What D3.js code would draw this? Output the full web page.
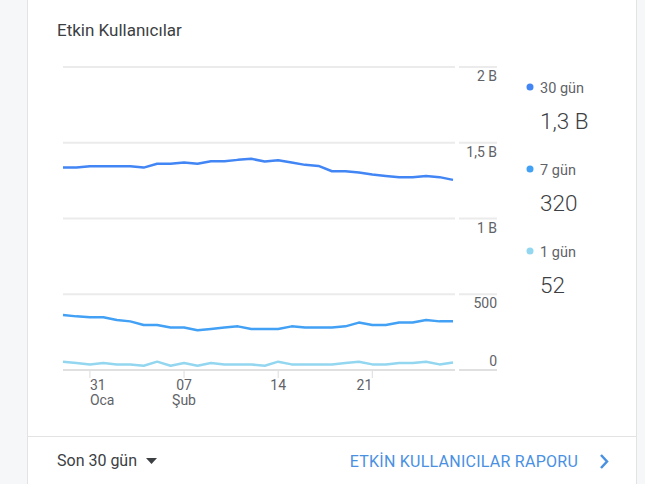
<!DOCTYPE html>
<html>
<head>
<meta charset="utf-8">
<script src="https://cdn.jsdelivr.net/npm/d3@7"></script>
<style>
  html, body { margin: 0; padding: 0; background: #f6f7f8; }
  svg { display: block; font-family: Roboto, "Noto Sans", sans-serif; }
</style>
</head>
<body>
<svg id="chart"></svg>
<script>
const dates = ["2019-01-29","2019-01-30","2019-01-31","2019-02-01","2019-02-02","2019-02-03",
    "2019-02-04","2019-02-05","2019-02-06","2019-02-07","2019-02-08","2019-02-09","2019-02-10",
    "2019-02-11","2019-02-12","2019-02-13","2019-02-14","2019-02-15","2019-02-16","2019-02-17",
    "2019-02-18","2019-02-19","2019-02-20","2019-02-21","2019-02-22","2019-02-23","2019-02-24",
    "2019-02-25","2019-02-26","2019-02-27"];

const users30 = [1336,1336,1345,1345,1345,1345,1336,1361,1361,1369,1361,1378,1378,1387,1394,
    1376,1385,1369,1354,1347,1312,1312,1303,1290,1281,1273,1273,1281,1273,1255];
const users7 = [363,354,348,348,330,321,297,297,280,280,262,271,280,288,271,
    271,271,288,280,280,280,288,313,297,297,313,313,330,321,321];
const users1 = [55,46,37,46,37,37,28,55,28,46,28,46,37,37,37,
    28,55,37,37,37,37,46,55,37,37,46,46,55,37,50];

const seriesNames = ["30 gün", "7 gün", "1 gün"];
const legendValues = ["1,3 B", "320", "52"];
const colors = ["#4285f4", "#42a0f5", "#93d6f0"];

const yTicks = [0, 500, 1000, 1500, 2000];
const yTickLabels = ["0", "500", "1 B", "1,5 B", "2 B"];

const xTickDates = ["2019-01-31", "2019-02-07", "2019-02-14", "2019-02-21"];
const xTickDays = ["31", "07", "14", "21"];
const xTickMonths = ["Oca", "Şub", "", ""];

const W = 645, H = 484;
const svg = d3.select("#chart").attr("width", W).attr("height", H);

// card
svg.append("rect")
    .attr("x", 27.5).attr("y", -10)
    .attr("width", 609).attr("height", H + 20)
    .attr("fill", "#fff")
    .attr("stroke", "#e3e3e3");

svg.append("text")
    .attr("x", 57).attr("y", 36)
    .style("font-size", "17px")
    .style("fill", "#3c4043")
    .text("Etkin Kullanıcılar");

const parse = d3.timeParse("%Y-%m-%d");
const x = d3.scaleTime()
    .domain([parse(dates[0]), parse(dates[dates.length - 1])])
    .range([63, 453]);
const y = d3.scaleLinear().domain([0, 2000]).range([370, 67]);

// gridlines, split in two parts like the original
const grid = svg.append("g");
yTicks.forEach((t, i) => {
    const c = i === 0 ? "#e0e0e0" : "#ebebeb";
    grid.append("line")
        .attr("x1", 63).attr("x2", 455)
        .attr("y1", y(t)).attr("y2", y(t))
        .attr("stroke", c).attr("stroke-width", 2);
    grid.append("line")
        .attr("x1", 459).attr("x2", 497)
        .attr("y1", y(t)).attr("y2", y(t))
        .attr("stroke", c).attr("stroke-width", 2);
    grid.append("text")
        .attr("x", 497)
        .attr("y", i === 0 ? y(t) - 4 : y(t) + 14)
        .attr("text-anchor", "end")
        .style("font-size", "14px")
        .style("fill", "#5f6368")
        .text(yTickLabels[i]);
});

// x axis ticks
const anchors = ["start", "middle", "middle", "end"];
xTickDates.forEach((d, i) => {
    const px = x(parse(d));
    svg.append("line")
        .attr("x1", px).attr("x2", px)
        .attr("y1", 371).attr("y2", 378)
        .attr("stroke", "#dcdcdc").attr("stroke-width", 1);
    svg.append("text")
        .attr("x", px).attr("y", 390)
        .attr("text-anchor", anchors[i])
        .style("font-size", "14px")
        .style("fill", "#5f6368")
        .text(xTickDays[i]);
    svg.append("text")
        .attr("x", px).attr("y", 405)
        .attr("text-anchor", anchors[i])
        .style("font-size", "14px")
        .style("fill", "#5f6368")
        .text(xTickMonths[i]);
});

const line = d3.line()
    .x((d, i) => x(parse(dates[i])))
    .y(d => y(d));

[users1, users7, users30].forEach((s, k) => {
    svg.append("path")
        .datum(s)
        .attr("fill", "none")
        .attr("stroke", colors[2 - k])
        .attr("stroke-width", 2.5)
        .attr("stroke-linejoin", "round")
        .attr("d", line);
});

// legend
seriesNames.forEach((name, i) => {
    const top = 87 + i * 82;
    svg.append("circle")
        .attr("cx", 530).attr("cy", top)
        .attr("r", 3.5)
        .attr("fill", colors[i]);
    svg.append("text")
        .attr("x", 540).attr("y", top + 5.5)
        .style("font-size", "14.5px")
        .style("fill", "#5f6368")
        .text(name);
    svg.append("text")
        .attr("x", 540).attr("y", top + 42)
        .style("font-size", "22.5px")
        .style("font-weight", 300)
        .style("fill", "#3c4043")
        .text(legendValues[i]);
});

// footer
svg.append("line")
    .attr("x1", 28).attr("x2", 636)
    .attr("y1", 436.5).attr("y2", 436.5)
    .attr("stroke", "#e3e3e3");

svg.append("text")
    .attr("x", 57).attr("y", 466)
    .style("font-size", "16px")
    .style("fill", "#3c4043")
    .text("Son 30 gün");

svg.append("path")
    .attr("d", "M146,458L157,458L151.5,464Z")
    .attr("fill", "#3c4043");

svg.append("text")
    .attr("x", 578).attr("y", 467)
    .attr("text-anchor", "end")
    .style("font-size", "16px")
    .style("letter-spacing", "0.25px")
    .style("fill", "#4a90e2")
    .text("ETKİN KULLANICILAR RAPORU");

svg.append("path")
    .attr("d", "M601,455L607,461.5L601,468")
    .attr("fill", "none")
    .attr("stroke", "#4a90e2")
    .attr("stroke-width", 2.5);
</script>
</body>
</html>
